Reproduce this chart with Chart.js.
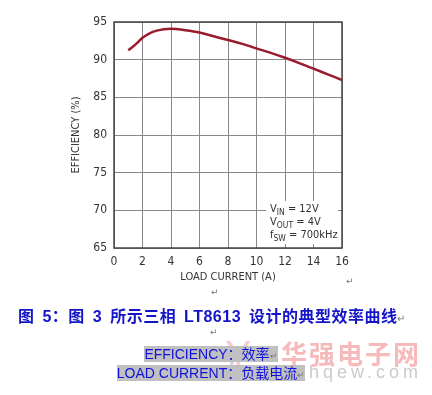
<!DOCTYPE html>
<html lang="zh">
<head>
<meta charset="UTF-8">
<title>LT8613 效率曲线</title>
<script src="https://cdn.jsdelivr.net/npm/chart.js@4"></script>
<style>
    body { margin: 0; width: 432px; height: 395px; background: #fff; position: relative; overflow: hidden;
           font-family: "Liberation Sans", "Noto Sans CJK SC", sans-serif; }
    #chart { position: absolute; left: 0; top: 0; }
    .ret { position: absolute; color: #777; font-family: "DejaVu Sans", sans-serif; font-size: 9px; }
    .caption { position: absolute; left: 18px; top: 303px; color: #1414c8; font-weight: bold; font-size: 16px;
               white-space: nowrap; letter-spacing: 0.5px; word-spacing: 3px; }
    .line { position: absolute; left: 0; width: 422px; text-align: center; font-size: 14px; color: #1010e0; white-space: nowrap; }
    .line span.hl { background: #c0c0c0; }
    .wm { position: absolute; white-space: nowrap; }
</style>
</head>
<body>
<canvas id="chart" width="432" height="300"></canvas>

<span class="ret" style="left:346px; top:276px;">↵</span>
<span class="ret" style="left:211px; top:287px;">↵</span>
<div class="caption">图 5：图 3 所示三相 LT8613 设计的典型效率曲线<span style="font-weight:normal;color:#777;font-size:10px;letter-spacing:0;">↵</span></div>
<span class="ret" style="left:210px; top:327px;">↵</span>

<div class="wm" style="left:226px; top:334px; font-size:40px; color:rgba(240,140,140,0.45); font-family:'DejaVu Sans';">Y</div>
<div class="wm" style="left:228px; top:346px; font-size:34px; color:rgba(120,150,200,0.35); font-family:'DejaVu Sans';">C</div>
<div class="wm" style="left:281px; top:334px; font-size:26px; letter-spacing:2px; font-weight:bold; color:rgba(240,130,130,0.55); font-family:'Noto Sans CJK SC';">华强电子网</div>
<div class="wm" style="left:250px; top:362px; font-size:18px; letter-spacing:4px; color:rgba(150,150,150,0.5); font-family:'Liberation Sans';">www.hqew.com</div>

<div class="line" style="top:343px;"><span class="hl">EFFICIENCY：效率<span style="color:#777;font-size:9px;">↵</span></span></div>
<div class="line" style="top:362px;"><span class="hl">LOAD CURRENT：负载电流<span style="color:#777;font-size:9px;">↵</span></span></div>

<script>
// 负载电流 (A) 与效率 (%)
const loadCurrent = [1, 1.5, 2, 2.5, 3, 3.5, 4, 5, 6, 7, 8, 9, 10, 11, 12, 13, 14, 15, 16];
const efficiency  = [91.25, 92.0, 92.9, 93.5, 93.85, 94.05, 94.1, 93.9, 93.6, 93.1, 92.6, 92.1, 91.5, 90.9, 90.25, 89.55, 88.8, 88.05, 87.3];

const xTicks = [0, 2, 4, 6, 8, 10, 12, 14, 16];
const yTicks = [65, 70, 75, 80, 85, 90, 95];

const conditions = [
    ['V', 'IN', ' = 12V'],
    ['V', 'OUT', ' = 4V'],
    ['f', 'SW', ' = 700kHz']
];

const textColor = '#333';
const family = '"DejaVu Sans Condensed", "Liberation Sans", Arial, sans-serif';
const font = { family: family, size: 11 };

// 图框 + 条件说明框
const framePlugin = {
    id: 'frame',
    afterDatasetsDraw(chart) {
        const ctx = chart.ctx;
        const a = chart.chartArea;
        ctx.save();
        const bx = a.right - 76, by = a.bottom - 47;
        ctx.fillStyle = '#fff';
        ctx.fillRect(bx, by, 72, 43);
        ctx.fillStyle = textColor;
        ctx.textBaseline = 'alphabetic';
        conditions.forEach((c, i) => {
            let x = bx + 4;
            const y = by + 11 + i * 13;
            ctx.font = '11px ' + family;
            ctx.fillText(c[0], x, y);
            x += ctx.measureText(c[0]).width;
            ctx.font = '8.5px ' + family;
            ctx.fillText(c[1], x, y + 3);
            x += ctx.measureText(c[1]).width;
            ctx.font = '11px ' + family;
            ctx.fillText(c[2], x, y);
        });
        ctx.strokeStyle = '#444';
        ctx.lineWidth = 1.5;
        ctx.strokeRect(a.left, a.top, a.right - a.left, a.bottom - a.top);
        ctx.restore();
    }
};

new Chart(document.getElementById('chart'), {
    type: 'line',
    data: {
        datasets: [{
            data: loadCurrent.map((x, i) => ({ x: x, y: efficiency[i] })),
            borderColor: '#9a1b2e',
            borderWidth: 2.5,
            pointRadius: 0,
            cubicInterpolationMode: 'monotone',
            fill: false
        }]
    },
    options: {
        responsive: false,
        animation: false,
        layout: { padding: { left: 66, right: 90, top: 22, bottom: 12 } },
        plugins: { legend: { display: false }, tooltip: { enabled: false } },
        scales: {
            x: {
                type: 'linear',
                min: 0, max: 16,
                afterBuildTicks: s => { s.ticks = xTicks.map(v => ({ value: v })); },
                afterFit: s => { s.height = 40; },
                grid: { color: '#888', lineWidth: 1, drawTicks: false },
                border: { display: false },
                ticks: { color: textColor, font: { family: family, size: 12 }, padding: 7, maxRotation: 0 },
                title: { display: true, text: 'LOAD CURRENT (A)', color: textColor, font: font, padding: { top: 4, bottom: 4 } }
            },
            y: {
                min: 65, max: 95,
                afterBuildTicks: s => { s.ticks = yTicks.map(v => ({ value: v })); },
                afterFit: s => { s.width = 48; },
                grid: { color: '#888', lineWidth: 1, drawTicks: false },
                border: { display: false },
                ticks: { color: textColor, font: { family: family, size: 12 }, padding: 7 },
                title: { display: true, text: 'EFFICIENCY (%)', color: textColor, font: font, padding: { top: 4, bottom: 4 } }
            }
        }
    },
    plugins: [framePlugin]
});
</script>
</body>
</html>
